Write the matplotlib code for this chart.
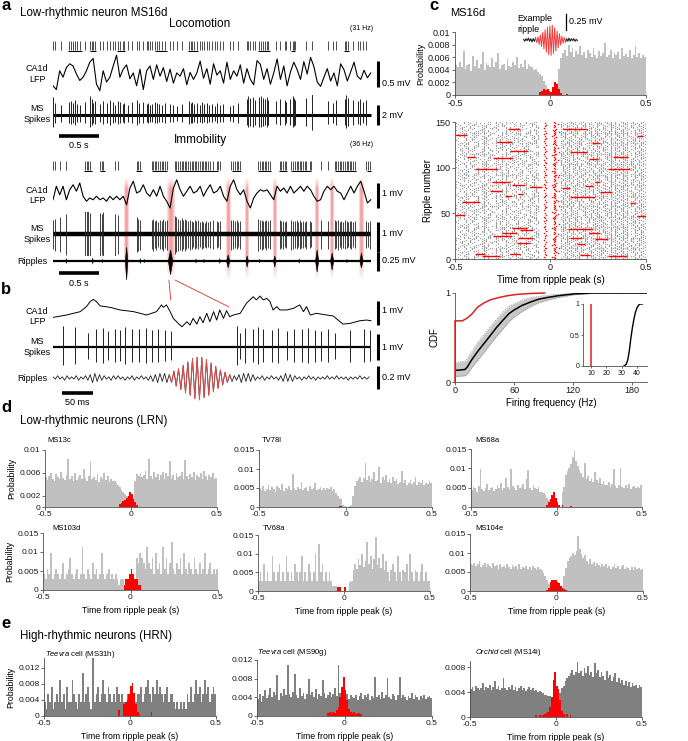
import numpy as np
import matplotlib.pyplot as plt
from matplotlib.patches import ConnectionPatch

plt.rcParams['font.family'] = ['Liberation Sans', 'DejaVu Sans']
plt.rcParams['mathtext.fontset'] = 'custom'
plt.rcParams['mathtext.rm'] = 'Liberation Sans'
plt.rcParams['mathtext.it'] = 'Liberation Sans:italic'
plt.rcParams['axes.unicode_minus'] = False

# ---------------- panel a: locomotion (s, mV) ----------------
loc_spk_t = [0.00, 0.025, 0.096, 0.205, 0.226, 0.247, 0.277, 0.306, 0.340, 0.403, 0.465, 0.486,
             0.507, 0.528, 0.591, 0.633, 0.675, 0.717, 0.759, 0.780, 0.822, 0.843, 0.876, 0.893,
             0.948, 0.990, 1.052, 1.086, 1.136, 1.178, 1.199, 1.220, 1.241, 1.283, 1.304, 1.338,
             1.367, 1.409, 1.472, 1.514, 1.556, 1.618, 1.711, 1.732, 1.753, 1.778, 1.807, 1.849,
             1.870, 1.899, 1.933, 1.966, 2.000, 2.038, 2.067, 2.101, 2.143, 2.226, 2.268, 2.331,
             2.436, 2.457, 2.486, 2.520, 2.541, 2.595, 2.616, 2.646, 2.667, 2.688, 2.709, 2.813,
             2.855, 2.918, 2.939, 2.981, 3.015, 3.031, 3.048, 3.191, 3.262, 3.463, 3.526, 3.568,
             3.673, 3.694, 3.715, 3.778, 3.841, 3.862, 3.904, 3.945]
loc_spk_amp = [1.8, 1.2, 1.0, 1.3, 1.4, 1.2, 1.5, 1.1, 1.0, 1.3, 1.9, 1.6, 1.2, 1.4,
               1.1, 1.4, 1.2, 1.5, 1.3, 1.0, 1.4, 1.3, 1.1, 1.2, 1.0, 1.3,
               1.5, 1.2, 1.3, 1.1, 1.2, 1.0, 1.1, 1.3, 1.2, 1.1, 1.0, 1.2, 1.1,
               1.0, 0.9, 1.1, 1.4, 1.2, 1.3, 1.1, 1.2, 1.0, 1.3, 1.1, 1.2, 1.0, 1.1, 0.9, 1.2, 1.0,
               1.1, 0.9, 1.0, 1.2, 1.6, 1.9, 1.7, 1.8, 1.5, 1.8, 1.9, 1.7, 1.6, 1.8, 1.5,
               1.4, 1.6, 1.5, 1.3, 1.6, 1.9, 1.7, 1.5, 1.7, 2.3,
               1.4, 1.2, 1.5, 1.6, 2.0, 1.7, 1.5, 1.4, 1.6, 1.3, 1.5]
loc_burst_t0 = [0.19, 0.465, 0.81, 1.28, 1.70, 2.58, 3.00, 3.665]
loc_burst_t1 = [0.36, 0.54, 0.91, 1.43, 1.82, 2.73, 3.05, 3.73]
loc_lfp = [-0.22, -0.29, 0.06, -0.06, 0.12, 0.19, 0.15, 0.00, -0.12, -0.06,
           0.06, 0.22, 0.29, -0.19, -0.31, 0.06, -0.15, -0.06, 0.15, 0.35,
           -0.06, 0.09, 0.17, -0.09, 0.02, -0.22, 0.09, -0.29, 0.06, 0.15,
           -0.10, 0.17, -0.04, 0.12, -0.14, 0.09, -0.17, 0.02, -0.04, 0.10,
           -0.20, 0.03, -0.10, 0.02, 0.24, -0.08, 0.10, -0.19, 0.19, -0.02,
           0.06, -0.17, 0.22, -0.10, 0.06, -0.04, 0.17, -0.17, 0.10, -0.10,
           -0.20, 0.25, 0.18, -0.10, 0.10, -0.19, 0.02, 0.28, -0.10, 0.15,
           -0.22, 0.04, 0.22, 0.08, -0.10, 0.23, 0.00, 0.31, 0.14, -0.15,
           -0.23, -0.06, 0.10, -0.13, 0.02, -0.22, 0.19, 0.08, -0.13, 0.04,
           0.22, -0.04, -0.10, 0.07, -0.07, 0.02]

# ---------------- panel a: immobility ----------------
imm_spk_t = [0.004, 0.025, 0.088, 0.164, 0.403, 0.423, 0.444, 0.465, 0.591, 0.612, 0.633,
             0.780, 0.822, 1.052, 1.073, 1.094, 1.241, 1.259, 1.283, 1.301, 1.325, 1.349,
             1.367, 1.385, 1.409, 1.430, 1.535, 1.553, 1.579, 1.596, 1.621, 1.637, 1.662,
             1.679, 1.705, 1.720, 1.747, 1.763, 1.789, 1.804, 1.830, 1.846, 1.873, 1.889,
             1.915, 1.930, 1.957, 1.972, 2.017, 2.059, 2.080, 2.101, 2.247, 2.266, 2.289,
             2.312, 2.331, 2.352, 2.583, 2.601, 2.625, 2.648, 2.667, 2.686, 2.709, 2.730,
             2.855, 2.874, 2.897, 2.920, 2.939, 3.002, 3.021, 3.044, 3.067, 3.086, 3.105,
             3.128, 3.151, 3.170, 3.191, 3.233, 3.254, 3.379, 3.463, 3.547, 3.566, 3.589,
             3.612, 3.631, 3.650, 3.673, 3.696, 3.715, 3.734, 3.757, 3.780, 3.799, 3.946,
             3.966, 3.987]
imm_spk_amp = [0.45, 0.50, 0.55, 0.65, 0.80, 0.75, 0.78, 0.70, 0.70, 0.65, 0.72, 0.68, 0.62,
               0.55, 0.50, 0.48, 0.45, 0.50, 0.42, 0.48, 0.40, 0.46, 0.44, 0.50, 0.42, 0.47,
               0.60, 0.55, 0.50, 0.48, 0.52, 0.45, 0.50, 0.46, 0.42, 0.48, 0.44, 0.40, 0.46,
               0.42, 0.45, 0.40, 0.44, 0.41, 0.38, 0.43, 0.40, 0.42, 0.45, 0.42, 0.40, 0.44,
               0.48, 0.45, 0.42, 0.46, 0.40, 0.44, 0.50, 0.46, 0.48, 0.44, 0.42, 0.47, 0.43,
               0.45, 0.46, 0.42, 0.44, 0.40, 0.43, 0.48, 0.44, 0.42, 0.46, 0.40, 0.45, 0.41,
               0.43, 0.39, 0.44, 0.42, 0.40, 0.46, 0.44, 0.45, 0.42, 0.48, 0.40, 0.44, 0.41,
               0.46, 0.43, 0.39, 0.42, 0.44, 0.40, 0.43, 0.42, 0.40, 0.44]
imm_burst_t0 = [0.39, 0.59, 1.04, 1.24, 1.535, 2.25, 2.58, 2.85, 3.00, 3.55, 3.95]
imm_burst_t1 = [0.49, 0.65, 1.12, 1.43, 2.08, 2.37, 2.75, 2.95, 3.25, 3.82, 4.00]
imm_lfp = [-0.27, 0.27, -0.07, 0.27, -0.27, 0.13, 0.33, 0.07, 0.40, -0.13,
           -0.33, -0.20, -0.27, -0.13, -0.27, -0.20, -0.33, -0.13, -0.27, -0.13,
           -0.27, -0.13, -0.47, 0.20, 0.47, 0.00, 0.07, 0.33, 0.00, -0.13,
           0.13, -0.13, 0.27, -0.13, -0.33, -0.60, 0.20, 0.53, 0.13, -0.13,
           0.07, 0.27, 0.00, 0.07, 0.27, -0.13, 0.13, 0.33, 0.00, 0.07,
           0.27, -0.13, -0.33, 0.27, 0.53, 0.13, -0.07, 0.13, -0.33, -0.60,
           -0.20, 0.00, 0.13, 0.07, 0.13, -0.07, -0.27, 0.27, 0.07, 0.20,
           0.00, 0.27, 0.00, 0.13, 0.27, 0.07, 0.27, 0.13, -0.13, -0.33,
           -0.27, 0.07, 0.27, 0.13, 0.27, 0.07, 0.00, -0.27, 0.00, 0.27,
           0.00, 0.27, 0.47, 0.07, -0.40, -0.27]
rip_t = [0.927, 1.480, 2.205, 2.444, 2.792, 3.325, 3.514, 3.883]
rip_up = [0.18, 0.145, 0.08, 0.066, 0.066, 0.145, 0.105, 0.105]
rip_down = [0.25, 0.18, 0.09, 0.08, 0.08, 0.145, 0.12, 0.09]
rip_hw = [0.016, 0.028, 0.02, 0.016, 0.016, 0.02, 0.02, 0.02]
band_hw = [0.031, 0.05, 0.031, 0.025, 0.025, 0.023, 0.023, 0.028]
noise_t = [0.17, 0.50, 0.62, 1.10, 1.15, 1.80, 1.90, 2.10, 2.60, 3.10, 3.70]
noise_amp = [0.04, 0.05, 0.03, 0.04, 0.03, 0.035, 0.03, 0.04, 0.03, 0.035, 0.03]

# ---------------- panel b (ms, mV) ----------------
b_lfp_t = [0, 22, 44, 54, 60, 65, 70, 76, 92, 108, 130, 151, 167, 175, 178, 183, 189, 194, 202, 208,
           216, 221, 226, 232, 237, 242, 248, 253, 259, 264, 269, 275, 280, 285, 291, 302, 312, 323,
           328, 334, 339, 345, 350, 355, 361, 366, 377, 388, 398, 404, 409, 415, 425, 441, 452, 463,
           468, 479, 495, 506, 513]
b_lfp = [-0.10, 0.00, 0.14, 0.35, 0.56, 0.65, 0.56, 0.38, 0.32, 0.21,
         0.14, 0.00, 0.14, 0.42, 0.32, 0.42, 0.14, -0.14, -0.35, -0.49,
         -0.28, -0.42, -0.14, -0.38, -0.07, -0.32, 0.07, -0.28, 0.14, -0.21,
         0.21, -0.14, 0.18, -0.07, 0.00, 0.07, 0.49, 0.76, 0.63, 0.79,
         0.63, 0.69, 0.56, 0.21, 0.35, 0.21, 0.21, 0.28, 0.42, 0.14,
         0.35, 0.00, 0.07, 0.00, -0.04, -0.28, -0.38, -0.35, -0.24, -0.21, -0.24]
b_spk_t = [16, 35, 57, 70, 81, 89, 100, 108, 116, 127, 138, 150, 159, 170, 181, 191,
           296, 302, 310, 323, 331, 339, 353, 363, 377, 388, 401, 412, 423, 433, 444, 455, 479, 501, 511]
b_spk_amp = [0.80, 0.75, 0.55, 0.70, 0.72, 0.60, 0.70, 0.65, 0.75, 0.68, 0.70, 0.72, 0.66, 0.70, 0.64, 0.60,
             0.80, 0.55, 0.72, 0.68, 0.75, 0.70, 0.66, 0.72, 0.60, 0.70, 0.68, 0.74, 0.66, 0.62, 0.70,
             0.55, 0.66, 0.70, 0.64]
# ripple-band trace, successive extremes every 3.75 ms, in 0.01 mV
b_rip = [1, -1, 2, -1, 1, -2, 2, -1, 1, -1, 2, -2, 1, -1, 2, -2,
         3, -4, 4, -3, 3,
         -2, 2, -1, 1, -2, 2, -1, 2, -1, 1, -2, 1, -1, 2, -2, 1, -1, 2, -1, 1, -2, 2,
         -3, 3, -4, 4, -3, 4, -4, 3,
         -4, 6, -7, 8, -10, 11, -13, 14, -15, 17, -18, 18, -19, 18, -17, 16, -15, 13, -12, 10,
         -9, 7, -6, 5, -4, 3,
         -3, 2, -2,
         3, -4, 4, -3, 4, -3, 3,
         -2, 1, -1, 2, -2, 1, -1, 2, -1, 1, -2, 2,
         -3, 4, -3, 3, -3,
         2, -1, 1, -2, 1, -1, 2, -1, 1, -2, 1, -1, 1, -1, 2, -1, 1, -1, 2, -1, 1, -1, 1, -2,
         1, -1, 1, -1, 2, -1, 1, -1, 1]
b_rip_on, b_rip_off = 188, 287

# ---------------- panel c ----------------
c_gray = [48, 45, 52, 44, 70, 41, 47, 50, 38, 62, 46, 55, 43, 49, 68, 40, 51, 47, 44, 58,
          45, 53, 66, 42, 48, 50, 39, 57, 46, 44, 52, 47, 61, 43, 49, 45, 55, 41, 50, 46,
          44, 40, 42, 36, 33, 30, 22, 16, 9, 3, 0, 0, 8, 19, 42,
          58, 66, 72, 62, 80, 68, 74, 60, 70, 65, 77, 63, 69, 58, 72, 66, 61, 75, 64, 59,
          70, 62, 67, 82, 60, 64, 71, 58, 66, 63, 69, 57, 74, 62, 65, 60, 71, 59, 64, 78,
          61, 66, 58, 63, 60]
c_red_t0 = -0.06
c_red = [5, 7, 9, 8, 10, 6, 4, 12, 21, 17, 9, 3, 0, 0, 2]
ex_rip = [1, -2, 2, -1, 3, -2, 2, -3, 2, -2,
          3, -4, 5, -7, 8, -10, 12, -14, 16, -19, 20, -23, 22, -24, 23, -21, 19, -17, 14, -12,
          10, -8, 6, -5, 4, -3,
          2, -2, 3, -2, 2, -1, 2, -2, 1, -1]
ex_red_on, ex_red_off = 10, 35

# raster: inter-spike gaps (in raster steps of ~10.5 ms) walked in from -0.5 s and from +0.5 s
ras_step = 0.01047
ras_left = [
    "3425136241532416", "4213524163214352", "2531426135241362", "5142363142513245", "3261453214261354",
    "2415326143251436", "4352142631425312", "3126453241362415", "5231462315243162", "2643152436142531",
    "1536242325316142", "6314225114352634", "2436132552461323", "5321416236215142", "3254126323145362",
    "4251324534251362", "1426135442135241", "4325143625314261", "3142531251423631", "4136241532614532",
    "1524316224153261", "3614253143521426", "2531614231264532", "1435263452314623", "5246132326431524",
    "3621514215362423", "2314536263142251", "4153241624361325", "6321435253214162", "3524136232541263",
    "3425136231425312", "4213524141362415", "2531426115243162", "5142363136142531", "3261453225316142",
    "2415326114352634", "4352142652461323", "3126453236215142", "5231462323145362", "2643152441532416",
    "1536242363214352", "6314225135241362", "2436132542513245", "5321416214261354", "3254126343251436",
    "3614253134251362", "2531614242135241", "1435263425314261", "5246132351423631", "3621514232614532",
    "2314536224153261", "4153241643521426", "6321435231264532", "3524136252314623", "4251324526431524",
    "1426135415362423", "4325143663142251", "3142531224361325", "4136241553214162", "1524316232541263",
    "3425136252461323", "4213524136215142", "2531426123145362", "5142363141532416", "3261453263214352",
    "2415326135241362", "4352142642513245", "3126453214261354", "5231462343251436", "2643152431425312",
    "1536242341362415", "6314225115243162", "2436132536142531", "5321416225316142", "3254126314352634",
    "6321435234251362", "3524136242135241", "4251324525314261", "1426135451423631", "4325143632614532",
    "3142531224153261", "4136241543521426", "1524316231264532", "3614253152314623", "2531614226431524",
    "1435263415362423", "5246132363142251", "3621514224361325", "2314536253214162", "4153241632541263",
    "3425136214261354", "4213524143251436", "2531426131425312", "5142363141362415", "3261453215243162",
    "2415326136142531", "4352142625316142", "3126453214352634", "5231462352461323", "2643152436215142",
    "1536242323145362", "6314225141532416", "2436132563214352", "5321416235241362", "3254126342513245",
    "4136241534251362", "1524316242135241", "3614253125314261", "2531614251423631", "1435263432614532",
    "5246132324153261", "3621514243521426", "2314536231264532", "4153241652314623", "6321435226431524",
    "3524136215362423", "4251324563142251", "1426135424361325", "4325143653214162", "3142531232541263",
    "3425136225316142", "4213524114352634", "2531426152461323", "5142363136215142", "3261453223145362",
    "2415326141532416", "4352142663214352", "3126453235241362", "5231462342513245", "2643152414261354",
    "1536242343251436", "6314225131425312", "2436132541362415", "5321416215243162", "3254126336142531",
    "3621514234251362", "2314536242135241", "4153241625314261", "6321435251423631", "3524136232614532",
    "4251324524153261", "1426135443521426", "4325143631264532", "3142531252314623", "4136241526431524",
    "1524316215362423", "3614253163142251", "2531614224361325", "1435263453214162", "5246132332541263"]
ras_right = [
    "213231422132142132213", "321423124221342313213", "132413223113224132142", "223142132431242132213",
    "312421314222143213421", "123412231412431322314", "231423142123213421432", "322142314231422132214",
    "214321322122314231421", "132214323113241322142", "421322134232213142231", "241332212321432132213",
    "312231424112342213241", "142331223223142312214", "224132142331421322142",
    "132241321422132314221", "312421322133214231242", "221432134211324132231", "124313223142231421324",
    "232134214323124213142", "314221322141234122314", "223142314212314231421", "132413221423221423142",
    "322131422312143213221", "214321322131322143231", "123422132414213221342", "231423122142413322123",
    "314213221423122314241", "321421322131423312232", "213423132132241321423",
    "213231422112431322314", "321423124223213421432", "132413223131422132214", "223142132422314231421",
    "312421314213241322142", "123412231432213142231", "231423142121432132213", "322142314212342213241",
    "214321322123142312214", "132214323131421322142", "421322134232142132213", "241332212321342313213",
    "312231424113224132142", "142331223231242132213", "224132142322143213421",
    "223142314212132314221", "132413221423214231242", "322131422311324132231", "214321322132231421324",
    "123422132413124213142", "231423122141234122314", "314213221422314231421", "321421322133221423142",
    "213423132132143213221", "132241321421322143231", "312421322134213221342", "221432134212413322123",
    "124313223143122314241", "232134214321423312232", "314221322142241321423",
    "213231422121432132213", "321423124212342213241", "132413223123142312214", "223142132431421322142",
    "312421314232142132213", "123412231421342313213", "231423142113224132142", "322142314231242132213",
    "214321322122143213421", "132214323112431322314", "421322134223213421432", "241332212331422132214",
    "312231424122314231421", "142331223213241322142", "224132142332213142231",
    "314213221422132314221", "321421322133214231242", "213423132131324132231", "132241321422231421324",
    "312421322133124213142", "221432134211234122314", "124313223142314231421", "232134214323221423142",
    "314221322142143213221", "223142314211322143231", "132413221424213221342", "322131422312413322123",
    "214321322133122314241", "123422132411423312232", "231423122142241321423",
    "213231422131242132213", "321423124222143213421", "132413223112431322314", "223142132423213421432",
    "312421314231422132214", "123412231422314231421", "231423142113241322142", "322142314232213142231",
    "214321322121432132213", "132214323112342213241", "421322134223142312214", "241332212331421322142",
    "312231424132142132213", "142331223221342313213", "224132142313224132142",
    "232134214322132314221", "314221322143214231242", "223142314211324132231", "132413221422231421324",
    "322131422313124213142", "214321322131234122314", "123422132412314231421", "231423122143221423142",
    "314213221422143213221", "321421322131322143231", "213423132134213221342", "132241321422413322123",
    "312421322133122314241", "221432134211423312232", "124313223142241321423",
    "213231422113241322142", "321423124232213142231", "132413223121432132213", "223142132412342213241",
    "312421314223142312214", "123412231431421322142", "231423142132142132213", "322142314221342313213",
    "214321322113224132142", "132214323131242132213", "421322134222143213421", "241332212312431322314",
    "312231424123213421432", "142331223231422132214", "224132142322314231421",
    "123422132412132314221", "231423122143214231242", "314213221421324132231", "321421322132231421324",
    "213423132133124213142", "132241321421234122314", "312421322132314231421", "221432134213221423142",
    "124313223142143213221", "232134214321322143231", "314221322144213221342", "223142314212413322123",
    "132413221423122314241", "322131422311423312232", "214321322132241321423"]
# spikes inside the ripple (x5 ms from the peak), one character per ripple
red_left = ("6070560607" "0650706050" "7060065070" "5060706006" "0750607050"
            "6007065060" "7050600706" "5060070560" "6070506007" "0560607050"
            "6070056070" "5060700650" "6070506007" "0650607050" "6007065060")
red_right1 = ("4540504654" "5046054045" "4504560454" "0545046045" "5404540560"
              "4506454054" "0454605450" "4540654045" "5046045405" "4560454054"
              "0545046045" "5404560454" "4540650454" "5046045405" "4560454054")
red_right2 = ("0020008000" "0900020000" "0300000800" "0002000090" "0000300008"
              "0200000900" "0008000200" "0000900030" "0200000008" "0090002000"
              "0000300080" "0002000900" "0800030000" "0000200009" "0300000800")
# spikes during neighbouring ripples: row, start, end (s)
seg_row = [136, 142, 128, 118, 112, 111, 99, 84, 81, 79, 75, 69, 71, 62, 48, 34, 32, 29, 25, 23, 17, 5, 3, 5,
           142, 127, 117, 110, 112, 99, 78, 80, 84, 73, 68, 61, 47, 33, 23, 28, 22, 16, 4, 3, 135]
seg_t0 = [-0.5, -0.221, -0.282, -0.212, -0.439, -0.299, -0.395, -0.308, -0.203, -0.107, -0.316, -0.238,
          -0.168, -0.465, -0.5, -0.203, -0.160, -0.256, -0.299, -0.168, -0.177, -0.395, -0.360, -0.212,
          0.067, 0.216, 0.102, 0.199, 0.329, 0.303, 0.058, 0.180, 0.233, 0.259, 0.102, 0.416, 0.451,
          0.093, 0.102, 0.199, 0.233, 0.137, 0.154, 0.303, 0.451]
seg_t1 = [-0.439, -0.160, -0.203, -0.116, -0.395, -0.195, -0.273, -0.212, -0.134, -0.046, -0.256, -0.203,
          -0.142, -0.369, -0.448, -0.125, -0.090, -0.177, -0.203, -0.090, -0.107, -0.343, -0.264, -0.160,
          0.190, 0.259, 0.190, 0.251, 0.407, 0.416, 0.102, 0.223, 0.259, 0.320, 0.233, 0.442, 0.500,
          0.223, 0.163, 0.259, 0.303, 0.180, 0.207, 0.399, 0.486]

cdf_red_f = [0, 0, 7.5, 12.6, 17.7, 22.8, 29.6, 36.4, 44.9, 53.4, 63.6, 77, 91]
cdf_red = [0, 0.687, 0.687, 0.72, 0.77, 0.84, 0.89, 0.925, 0.95, 0.97, 0.985, 0.995, 1.0]
cdf_f = [0, 10, 12.6, 17, 22.8, 30, 36.4, 42, 48.3, 55, 60.2, 68, 77, 85, 94, 105, 121, 140, 195]
cdf_mean = [0.13, 0.14, 0.17, 0.25, 0.34, 0.44, 0.53, 0.61, 0.69, 0.77, 0.81, 0.86, 0.90, 0.93, 0.95,
            0.97, 0.99, 1.0, 1.0]
cdf_lo = [0.06, 0.07, 0.09, 0.16, 0.24, 0.34, 0.43, 0.51, 0.59, 0.68, 0.73, 0.79, 0.85, 0.89, 0.92,
          0.95, 0.98, 0.995, 1.0]
cdf_hi = [0.22, 0.23, 0.26, 0.34, 0.44, 0.54, 0.63, 0.70, 0.78, 0.85, 0.88, 0.92, 0.95, 0.96, 0.975,
          0.985, 0.998, 1.0, 1.0]
ins_f = [31.5, 33, 34, 35, 36, 37, 38, 39, 40, 41, 42, 43.5]
ins_cdf = [0, 0.03, 0.10, 0.25, 0.45, 0.62, 0.76, 0.87, 0.94, 0.98, 1.0, 1.0]
ins_red_f = 10

# ---------------- panels d, e: 10 ms bins from -0.5 to 0.5 s, units of 1e-4 ----------------
d1_gray = [52, 48, 55, 60, 50, 46, 58, 53, 49, 62, 51, 47, 56, 85, 50, 54, 45, 59, 48, 52,
           57, 49, 66, 51, 46, 55, 80, 50, 53, 47, 58, 44, 52, 49, 60, 47, 55, 43, 50, 46,
           45, 42, 38, 35, 30, 27, 22, 20, 18, 16, 14, 16, 45, 58, 55,
           60, 52, 57, 63, 50, 85, 55, 49, 61, 53, 58, 47, 56, 62, 50, 59, 54, 80, 51, 57,
           48, 60, 53, 55, 62, 50, 83, 54, 49, 58, 52, 61, 47, 56, 53, 59, 50, 64, 55, 48,
           57, 52, 60, 49, 51]
d1_red = [5, 7, 10, 12, 15, 20, 27, 22, 14, 8, 4]
d2_gray = [50, 46, 55, 42, 48, 58, 44, 52, 47, 40, 54, 49, 45, 60, 43, 51, 48, 56, 46, 88,
           50, 45, 53, 47, 65, 44, 49, 52, 41, 55, 47, 50, 62, 45, 48, 53, 44, 50, 46, 49,
           47, 52, 43, 48, 38, 30, 24, 20, 4, 2, 0, 0, 2, 5, 28,
           55, 68, 74, 80, 65, 77, 115, 70, 82, 66, 75, 92, 68, 72, 104, 64, 78, 70, 85, 67,
           73, 62, 80, 68, 74, 60, 66, 95, 63, 70, 58, 64, 72, 60, 66, 78, 59, 65, 62, 70,
           57, 64, 60, 68, 62]
d2_red = [3, 2]
d3_gray = [45, 52, 48, 40, 55, 98, 47, 42, 50, 60, 44, 48, 53, 41, 46, 58, 50, 62, 44, 49,
           75, 52, 47, 99, 55, 50, 44, 58, 48, 52, 60, 47, 72, 95, 50, 45, 56, 49, 46, 52,
           40, 38, 35, 30, 22, 18, 14, 12, 10, 6, 0, 0, 0, 38, 52,
           82, 92, 100, 112, 130, 145, 120, 105, 96, 88, 78, 115, 72, 80, 68, 76, 65, 90, 70, 62,
           74, 60, 68, 58, 56, 64, 52, 60, 98, 54, 50, 58, 102, 52, 48, 56, 50, 60, 46, 52,
           55, 48, 53, 50, 56]
d3_red = [6, 12, 20, 30, 38, 24, 12, 6, 0, 4, 0, 0, 0, 0, 3]
d4_gray = [42, 28, 56, 42, 98, 28, 42, 56, 42, 28, 42, 70, 28, 42, 56, 84, 42, 28, 42, 56,
           28, 42, 112, 42, 28, 56, 42, 28, 70, 42, 56, 28, 42, 98, 42, 28, 42, 56, 28, 42,
           28, 42, 28, 14, 28, 28, 14, 28, 14, 0, 0, 14, 28, 84, 70,
           98, 84, 70, 56, 112, 70, 56, 84, 42, 98, 56, 70, 42, 112, 56, 84, 42, 70, 126, 56,
           42, 70, 56, 84, 42, 98, 56, 42, 70, 56, 42, 84, 56, 42, 70, 42, 56, 98, 42, 56,
           70, 42, 56, 42, 56]
d4_red = [14, 28, 28, 42, 56, 42, 28, 28, 14, 14]
d5_gray = [28, 50, 28, 72, 28, 50, 28, 28, 95, 50, 28, 50, 72, 28, 50, 28, 95, 50, 28, 50,
           28, 72, 50, 28, 50, 95, 28, 50, 28, 72, 50, 28, 50, 98, 28, 125, 50, 72, 28, 50,
           28, 50, 28, 14, 14, 14, 0, 0, 0, 0, 0, 0, 0, 25, 28,
           56, 72, 60, 85, 70, 100, 65, 80, 130, 72, 95, 60, 85, 145, 70, 88, 62, 100, 56, 80,
           50, 28, 56, 72, 50, 28, 95, 50, 28, 56, 50, 72, 28, 100, 50, 28, 56, 50, 28, 50,
           72, 28, 50, 28, 28]
d5_red = [11, 11, 0, 0, 11]
d6_gray = [72, 68, 75, 65, 70, 78, 64, 69, 73, 62, 71, 66, 60, 74, 65, 69, 58, 72, 63, 67,
           60, 71, 64, 58, 68, 62, 66, 59, 70, 57, 64, 61, 67, 58, 63, 56, 65, 60, 55, 62,
           58, 54, 48, 40, 30, 18, 10, 6, 0, 0, 0, 0, 0, 10, 40,
           60, 78, 88, 92, 100, 96, 105, 145, 110, 98, 88, 95, 80, 72, 85, 70, 76, 66, 74, 68,
           62, 70, 65, 72, 60, 67, 58, 64, 70, 61, 66, 57, 63, 69, 58, 64, 60, 56, 62, 55,
           63, 58, 60, 56, 59]
d6_red = [2, 8, 25, 30, 28, 30, 24, 20, 14, 8, 4, 2]
e1_gray = [36, 18, 54, 36, 72, 18, 36, 54, 36, 90, 36, 54, 18, 72, 36, 36, 90, 54, 36, 18,
           54, 36, 108, 36, 54, 72, 36, 18, 144, 36, 54, 72, 36, 54, 90, 54, 36, 72, 54, 36,
           54, 36, 72, 54, 36, 54, 36, 36, 54, 36, 54, 36, 54, 36, 54,
           54, 72, 36, 54, 72, 90, 54, 36, 72, 54, 90, 54, 72, 54, 36, 54, 72, 36, 54, 54,
           36, 18, 36, 18, 36, 18, 36, 18, 54, 36, 72, 36, 54, 90, 54, 72, 36, 54, 90, 54,
           72, 36, 54, 72, 54]
e1_red = [14, 0, 0, 30, 36, 40, 55, 75, 82, 58, 30, 10, 4, 0, 0, 0, 0, 0, 0, 10]
e2_gray = [36, 48, 30, 42, 55, 38, 45, 60, 40, 52, 46, 88, 35, 50, 42, 58, 44, 110, 48, 40,
           52, 90, 45, 38, 60, 42, 50, 36, 47, 80, 44, 52, 40, 58, 36, 48, 42, 78, 50, 38,
           45, 52, 40, 48, 60, 42, 110, 50, 44, 38, 42, 48, 36, 45, 40,
           38, 46, 35, 42, 50, 36, 44, 40, 48, 34, 42, 38, 84, 40, 46, 36, 52, 38, 44, 82,
           40, 36, 48, 42, 34, 44, 84, 38, 46, 40, 35, 42, 38, 50, 36, 44, 40, 34, 42, 38,
           46, 36, 40, 42, 38]
e2_red = [6, 8, 5, 9, 7, 12, 19, 40, 63, 84, 55, 34, 16, 9, 6, 8, 5, 7, 6, 4]
e3_gray = [45, 48, 42, 50, 46, 44, 47, 55, 43, 49, 46, 52, 44, 48, 58, 45, 50, 43, 47, 62,
           46, 44, 49, 45, 52, 43, 48, 42, 46, 50, 44, 47, 41, 45, 49, 43, 46, 42, 44, 40,
           42, 40, 38, 36, 35, 34, 33, 32, 32, 31, 32, 33, 38, 46, 50,
           58, 62, 66, 70, 75, 68, 72, 88, 70, 74, 66, 78, 70, 82, 68, 73, 65, 86, 70, 76,
           64, 72, 66, 60, 74, 62, 68, 58, 64, 70, 56, 62, 54, 60, 52, 58, 50, 56, 48, 54,
           50, 52, 46, 52, 48]
e3_red = [3, 0, 3, 0, 4, 5, 6, 8, 16, 32, 59, 72, 50, 45, 27, 10, 5, 0, 5, 0, 3]

# ==================== drawing ====================
W, H = 688, 741
fig = plt.figure(figsize=(W / 100, H / 100), dpi=100)


def box(x0, y0, x1, y1, z=1):
    # axes from a pixel box measured from the top-left corner
    return fig.add_axes([x0 / W, 1 - y1 / H, (x1 - x0) / W, (y1 - y0) / H], zorder=z)


def txt(x, y, s, size=6.5, **kw):
    kw.setdefault('va', 'center')
    fig.text(x / W, 1 - y / H, s, fontsize=size, **kw)


def trace_ax(y0, y1, ylim, xlim):
    ax = box(53, y0, 420, y1, z=2)
    ax.set_xlim(xlim)
    ax.set_ylim(ylim)
    ax.axis('off')
    ax.patch.set_visible(False)
    return ax


def vbar(ax, x, y0, y1, label, ly=0.0):
    ax.plot([x, x], [y0, y1], color='k', lw=2.2, solid_capstyle='butt', clip_on=False)
    ax.annotate(label, (x, ly), xytext=(3.3, 0), textcoords='offset points', fontsize=6.5,
                va='center', annotation_clip=False)


def hbar(ax, x0, x1, y, label, ly):
    ax.plot([x0, x1], [y, y], color='k', lw=2.6, solid_capstyle='butt', clip_on=False)
    ax.text((x0 + x1) / 2, ly, label, fontsize=6.5, ha='center', va='center', clip_on=False)


def style(ax, fs, tl=2.0):
    for s in ('top', 'right'):
        ax.spines[s].set_visible(False)
    for s in ('left', 'bottom'):
        ax.spines[s].set_color('#505050')
        ax.spines[s].set_linewidth(0.6)
    ax.tick_params(labelsize=fs, length=tl, width=0.6, color='#505050', pad=1.2, labelcolor='#1a1a1a')


A_XL = (0, 4.62)
B_XL = (0, 592)
SB_A = 4.088
SB_B = 524

# panel letters and titles
for lx, ly, s in ((1, 6, 'a'), (1, 290, 'b'), (429, 6, 'c'), (1, 408, 'd'), (1, 624, 'e')):
    txt(lx, ly, s, size=12, weight='bold')
txt(20, 13, 'Low-rhythmic neuron MS16d', size=8.3)
txt(200, 24, 'Locomotion', size=8.5, ha='center')
txt(362, 29, '(31 Hz)', size=5, ha='center')
txt(200, 140, 'Immobility', size=8.5, ha='center')
txt(362, 145, '(36 Hz)', size=5, ha='center')
for y, s in ((74, 'CA1d\nLFP'), (114, 'MS\nSpikes'), (195.5, 'CA1d\nLFP'), (234, 'MS\nSpikes'),
             (316.5, 'CA1d\nLFP'), (347, 'MS\nSpikes')):
    txt(37, y, s, ha='center', linespacing=1.15)
txt(47, 261, 'Ripples', ha='right')
txt(47, 378, 'Ripples', ha='right')

# locomotion
ax = trace_ax(40, 52, (0, 1), A_XL)
ax.vlines(loc_spk_t, 0.2, 0.95, color='#303030', lw=0.6)
ax.hlines(np.full(len(loc_burst_t0), 0.08), loc_burst_t0, loc_burst_t1, color='k', lw=0.8)

ax = trace_ax(52, 96, (-0.41, 0.41), A_XL)
ax.plot(np.linspace(0, 4, len(loc_lfp)), loc_lfp, color='k', lw=0.8)
vbar(ax, SB_A, -0.25, 0.25, '0.5 mV', -0.18)

ax = trace_ax(95, 131, (-1.6, 2.0), A_XL)
ax.hlines(0, 0, 4, color='k', lw=2.2)
amp = np.array(loc_spk_amp)
ax.vlines(loc_spk_t, -0.65 * amp, amp, color='#222222', lw=0.7)
vbar(ax, SB_A, -1.0, 1.0, '2 mV')
hbar(ax, 0.075, 0.578, -2.1, '0.5 s', -3.0)

# immobility: pink ripple bands behind the traces
band_ax = box(53, 176, 420, 281, z=1)
fade_v = np.concatenate([np.linspace(0, 1, 5), np.ones(22), np.linspace(1, 0, 9)])[:, None]
fade_h = np.array([0.35, 0.75, 1.0, 1.0, 0.75, 0.35])[None, :]
for t, hw in zip(rip_t, band_hw):
    img = np.zeros((fade_v.size, fade_h.size, 4))
    img[..., 0], img[..., 1], img[..., 2] = 0.95, 0.45, 0.45
    img[..., 3] = 0.7 * fade_v * fade_h
    band_ax.imshow(img, extent=(t - hw, t + hw, 0, 1), aspect='auto', interpolation='bilinear')
band_ax.set_xlim(A_XL)
band_ax.set_ylim(0, 1)
band_ax.axis('off')

ax = trace_ax(160, 172, (0, 1), A_XL)
ax.vlines(imm_spk_t, 0.2, 0.95, color='#303030', lw=0.6)
ax.hlines(np.full(len(imm_burst_t0), 0.08), imm_burst_t0, imm_burst_t1, color='k', lw=0.8)

ax = trace_ax(175, 212, (-0.76, 0.72), A_XL)
ax.plot(np.linspace(0, 4, len(imm_lfp)), imm_lfp, color='k', lw=0.8)
vbar(ax, SB_A, -0.6, 0.4, '1 mV')

ax = trace_ax(212, 256, (-0.733, 0.733), A_XL)
ax.hlines(0, 0, 4, color='k', lw=3.2)
amp = np.array(imm_spk_amp)
ax.vlines(imm_spk_t, -1.1 * amp, amp, color='#222222', lw=0.6)
vbar(ax, SB_A, -0.6, 0.4, '1 mV')

ax_irip = trace_ax(247, 281, (-0.263, 0.184), A_XL)
ax_irip.hlines(0, 0, 4, color='k', lw=1.6)
for t, a in zip(noise_t, noise_amp):
    ax_irip.fill([t - 0.012, t, t + 0.012, t], [0, a, 0, -a], color='k', lw=0)
for t, u, d, w in zip(rip_t, rip_up, rip_down, rip_hw):
    ax_irip.fill([t - w, t, t + w, t], [0, u, 0, -d], color='k', lw=0.4)
vbar(ax_irip, SB_A, -0.132, 0.118, '0.25 mV')
hbar(ax_irip, 0.075, 0.578, -0.158, '0.5 s', -0.29)

# panel b
ax_blfp = trace_ax(293, 333, (-0.75, 0.917), B_XL)
ax_blfp.plot(b_lfp_t, b_lfp, color='k', lw=0.7)
vbar(ax_blfp, SB_B, -0.417, 0.583, '1 mV', 0.167)

ax = trace_ax(322, 372, (-0.96, 0.96), B_XL)
ax.hlines(0, 0, 513, color='k', lw=1.6)
amp = np.array(b_spk_amp)
ax.vlines(b_spk_t, -0.85 * amp, amp, color='#222222', lw=0.7)
vbar(ax, SB_B, -0.5, 0.5, '1 mV')

ax = trace_ax(355, 401, (-0.2, 0.2), B_XL)
bt = np.arange(len(b_rip)) * 3.75
bv = np.array(b_rip) / 100
ax.plot(bt, bv, color='#222222', lw=0.6)
on = (bt >= b_rip_on - 4) & (bt <= b_rip_off + 4)
ax.plot(bt[on], bv[on], color='#f04848', lw=0.6)
vbar(ax, SB_B, -0.096, 0.104, '0.2 mV')
hbar(ax, 14.5, 64.5, -0.13, '50 ms', -0.21)

for xa, xb, yb in ((1.459, 190, 0.625), (1.535, 284, 0.333)):
    con = ConnectionPatch(xyA=(xa, -0.25), coordsA='data', axesA=ax_irip,
                          xyB=(xb, yb), coordsB='data', axesB=ax_blfp, color='#e03030', lw=0.6)
    fig.add_artist(con)

# panel c
edges = np.round(np.arange(100) * 0.01 - 0.5, 3)


def hist(rect, gray, red, red_t0, ymax, yticks, ylabels, color, fs=6.0):
    ax = box(*rect)
    ax.bar(edges, np.array(gray) * 1e-4, width=0.01, align='edge', color=color, lw=0)
    k = int(round((red_t0 + 0.5) / 0.01))
    ax.bar(edges[k:k + len(red)], np.array(red) * 1e-4, width=0.01, align='edge', color='red', lw=0)
    ax.set_xlim(-0.5, 0.5)
    ax.set_ylim(0, ymax)
    ax.set_xticks([-0.5, 0, 0.5], ['-0.5', '0', '0.5'])
    ax.set_yticks(yticks, ylabels)
    style(ax, fs)
    return ax


txt(450, 13, 'MS16d', size=8)
ax = hist((455, 32, 646, 95), c_gray, c_red, c_red_t0, 0.01, [0, 0.002, 0.004, 0.006, 0.008, 0.01],
          ['0', '0.002', '0.004', '0.006', '0.008', '0.01'], '#c0c0c0', fs=6.5)
ax.set_ylabel('Probability', fontsize=6.5, labelpad=2)

ex = box(523, 18, 578, 62, z=3)
ex.axis('off')
ex.patch.set_visible(False)
ev = np.array(ex_rip) / 100
ei = np.arange(len(ev))
ex.plot(ei[:ex_red_on + 1], ev[:ex_red_on + 1], color='#222222', lw=0.8)
ex.plot(ei[ex_red_off:], ev[ex_red_off:], color='#222222', lw=0.8)
ex.plot(ei[ex_red_on:ex_red_off + 1], ev[ex_red_on:ex_red_off + 1], color='#f03c3c', lw=0.7)
ex.set_xlim(-0.5, len(ev) - 0.5)
ex.set_ylim(-0.344, 0.344)
ex.plot([35.5, 35.5], [0.156, 0.406], color='k', lw=0.9, clip_on=False)
txt(569, 21, '0.25 mV', size=6.5)
txt(517, 24, 'Example\nripple', size=6.5, linespacing=1.35)

axr = box(455, 122, 646, 259)
xs, ys = [], []
for i, (lft, rgt) in enumerate(zip(ras_left, ras_right)):
    p = -0.5
    for ch in lft:
        p += int(ch) * ras_step
        if p > -0.05:
            break
        xs.append(p - ras_step / 2)
        ys.append(i + 0.5)
    p = 0.5
    for ch in rgt:
        p -= int(ch) * ras_step
        if p < 0.04:
            break
        xs.append(p + ras_step / 2)
        ys.append(i + 0.5)
axr.plot(xs, ys, 's', ms=0.85, mew=0, color='#a0a0a0')
rx, ry = [], []
for i in range(150):
    for s, sg in ((red_left, -1), (red_right1, 1), (red_right2, 1)):
        k = int(s[i], 16)
        if k:
            rx.append(sg * k * 0.005)
            ry.append(i + 0.5)
axr.plot(rx, ry, 's', ms=0.95, mew=0, color='red')
axr.hlines(seg_row, seg_t0, seg_t1, color='red', lw=1.0)
axr.set_xlim(-0.5, 0.5)
axr.set_ylim(0, 150)
axr.set_xticks([-0.5, 0, 0.5], ['-0.5', '0', '0.5'])
axr.set_yticks([0, 50, 100, 150])
style(axr, 6.5)
axr.set_xlabel('Time from ripple peak (s)', fontsize=7, labelpad=2)
axr.set_ylabel('Ripple number', fontsize=7, labelpad=2)

axc = box(455, 293, 647, 382)
axc.fill_between(cdf_f, cdf_lo, cdf_hi, color='#c8c8c8', lw=0)
axc.plot(cdf_f, cdf_lo, color='#8a8a8a', lw=0.5, dashes=(2, 1.5))
axc.plot(cdf_f, cdf_hi, color='#8a8a8a', lw=0.5, dashes=(2, 1.5))
axc.plot(cdf_f, cdf_mean, color='k', lw=1.1)
axc.plot(cdf_red_f, cdf_red, color='#e02020', lw=1.1, clip_on=False)
axc.set_xlim(0, 195)
axc.set_ylim(0, 1)
axc.set_xticks([0, 60, 120, 180])
axc.set_yticks([0, 1])
style(axc, 6.5)
axc.set_xlabel('Firing frequency (Hz)', fontsize=7, labelpad=2)
axc.set_ylabel('CDF', fontsize=7, labelpad=4)

axi = box(583, 304, 647, 366, z=3)
axi.plot([ins_red_f, ins_red_f], [0, 1], color='#e02020', lw=1.1)
axi.plot(ins_f, ins_cdf, color='k', lw=1.0)
axi.set_xlim(4.8, 46.5)
axi.set_ylim(0, 1)
axi.set_xticks([10, 20, 30, 40])
axi.set_yticks([0, 0.5, 1], ['0', '0.5', '1'])
style(axi, 5, tl=1.5)

# panels d and e
txt(20, 421, 'Low-rhythmic neurons (LRN)', size=8.3)
txt(20, 636, 'High-rhythmic neurons (HRN)', size=8.3)
t15 = ([0, 0.005, 0.01, 0.015], ['0', '0.005', '0.01', '0.015'])
panels = [
    ((45, 450, 217, 507), d1_gray, d1_red, -0.07, 0.01, [0, 0.002, 0.006, 0.01],
     ['0', '0.002', '0.006', '0.01'], '#c0c0c0', 'MS13c', (47, 440), False, True),
    ((259, 450, 432, 507), d2_gray, d2_red, -0.04, 0.015, t15[0], t15[1], '#c0c0c0', 'TV78l', (262, 440), False, False),
    ((471, 449, 642, 507), d3_gray, d3_red, -0.06, 0.015, t15[0], t15[1], '#c0c0c0', 'MS68a', (475, 441), False, False),
    ((43, 533, 218, 590), d4_gray, d4_red, -0.04, 0.015, t15[0], t15[1], '#c0c0c0', 'MS103d', (52, 528), True, True),
    ((258, 535, 430, 591), d5_gray, d5_red, -0.04, 0.015, t15[0], t15[1], '#c0c0c0', 'TV68a', (263, 529), True, False),
    ((470, 534, 643, 591), d6_gray, d6_red, -0.06, 0.015, t15[0], t15[1], '#c0c0c0', 'MS104e', (475, 529), True, False),
    ((44, 658, 216, 716), e1_gray, e1_red, -0.07, 0.0145, [0, 0.004, 0.008, 0.012],
     ['0', '0.004', '0.008', '0.012'], '#808080', r'$\mathit{Teevra}$ cell (MS31h)', (45, 654), True, True),
    ((257, 660, 432, 716), e2_gray, e2_red, -0.10, 0.012, [0, 0.004, 0.008, 0.012],
     ['0', '0.004', '0.008', '0.012'], '#808080', r'$\mathit{Teevra}$ cell (MS90g)', (257, 653), True, False),
    ((470, 661, 642, 717), e3_gray, e3_red, -0.12, 0.009, [0, 0.004, 0.008],
     ['0', '0.004', '0.008'], '#808080', r'$\mathit{Orchid}$ cell (MS14i)', (475, 652), True, False),
]
for rect, g, r, r0, ym, yt, yl, col, title, tpos, xl, yl_on in panels:
    ax = hist(rect, g, r, r0, ym, yt, yl, col)
    txt(tpos[0], tpos[1], title, size=5.5)
    if xl:
        ax.set_xlabel('Time from ripple peak (s)', fontsize=6.3, labelpad=3)
    if yl_on:
        ax.set_ylabel('Probability', fontsize=6.3, labelpad=2)

fig.savefig('out.png', dpi=100)
